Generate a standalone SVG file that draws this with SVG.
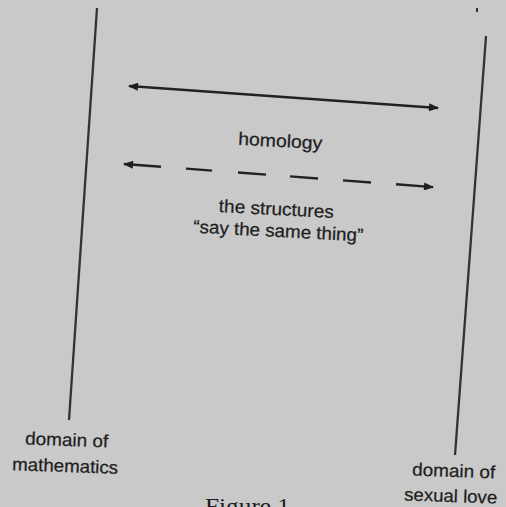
<svg xmlns="http://www.w3.org/2000/svg" width="506" height="507" viewBox="0 0 506 507">
<style>
.t{font-family:"Liberation Sans",Arial,sans-serif;font-size:18px;fill:#1e1e1e;stroke:#1e1e1e;stroke-width:0.25}
.dom{stroke:#333;stroke-width:2.3;fill:none}
.arr{stroke:#222;stroke-width:2.4;fill:none;marker-start:url(#ah);marker-end:url(#ah)}
</style>
<defs>
<marker id="ah" viewBox="0 0 10 8" refX="9" refY="4" markerWidth="11" markerHeight="8" markerUnits="userSpaceOnUse" orient="auto-start-reverse">
<path d="M0,0 L10,4 L0,8 z" fill="#1e1e1e"/>
</marker>
</defs>
<rect width="506" height="507" fill="#c9c9c9"/>
<rect x="476" y="8" width="2" height="4" fill="#333"/>
<g id="domain-math">
<line class="dom" x1="97" y1="8" x2="69" y2="420"/>
<text class="t" transform="rotate(2 66 446)" x="25" y="446" textLength="83" lengthAdjust="spacingAndGlyphs">domain of</text>
<text class="t" transform="rotate(2 65 472)" x="12" y="472" textLength="106" lengthAdjust="spacingAndGlyphs">mathematics</text>
</g>
<g id="domain-love">
<line class="dom" x1="486" y1="36" x2="455" y2="455"/>
<text class="t" transform="rotate(2 453 477)" x="412" y="477" textLength="83" lengthAdjust="spacingAndGlyphs">domain of</text>
<text class="t" transform="rotate(2 450 502)" x="404" y="502" textLength="93" lengthAdjust="spacingAndGlyphs">sexual love</text>
</g>
<g id="connectors">
<path id="homology-arrow" class="arr" d="M129,86 L438,108"/>
<path id="structure-arrow" class="arr" d="M124,164 L161,166.8 M186,168.6 L212,170.6 M238,172.5 L266,174.6 M290,176.4 L318,178.5 M343,180.4 L371,182.5 M396,184.3 L433,187.1"/>
</g>
<g id="labels">
<text class="t" transform="rotate(3 280 147)" x="280" y="147" text-anchor="middle" textLength="84" lengthAdjust="spacingAndGlyphs">homology</text>
<text class="t" transform="rotate(3 276 215)" x="276" y="215" text-anchor="middle" textLength="115" lengthAdjust="spacingAndGlyphs">the structures</text>
<text class="t" transform="rotate(3 278 237)" x="278" y="237" text-anchor="middle" textLength="170" lengthAdjust="spacingAndGlyphs">“say the same thing”</text>
</g>
<text x="205" y="514" textLength="85" lengthAdjust="spacingAndGlyphs" style="font-family:'Liberation Serif','Times New Roman',serif;font-size:24px;fill:#1e1e1e">Figure 1</text>
</svg>
